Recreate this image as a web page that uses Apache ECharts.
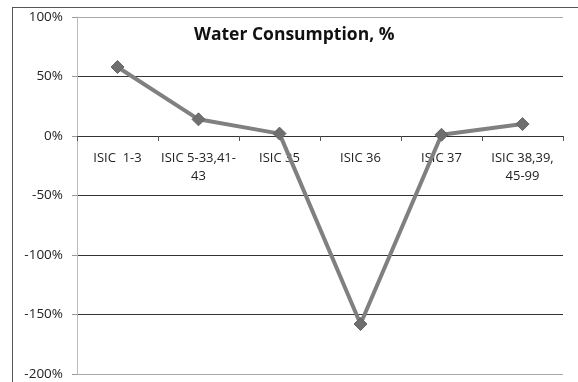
<!DOCTYPE html>
<html>
<head>
<meta charset="utf-8">
<script src="https://cdn.jsdelivr.net/npm/echarts@6/dist/echarts.min.js"></script>
<style>html,body{margin:0;padding:0;background:#fff}#c{width:578px;height:382px}</style>
</head>
<body>
<div id="c"></div>
<script>
var categories = ['ISIC  1-3', 'ISIC 5-33,41-\n43', 'ISIC 35', 'ISIC 36', 'ISIC 37', 'ISIC 38,39,\n45-99'];
var values = [58, 14, 2, -158, 1, 10];
var yTicks = { min: -200, max: 100, interval: 50 };
var titleText = 'Water Consumption, %';

var chart = echarts.init(document.getElementById('c'));
chart.setOption({
  animation: false,
  backgroundColor: '#fff',
  title: {
    text: titleText,
    left: 189, top: 21,
    textStyle: { fontFamily: 'Open Sans', fontWeight: 'bold', fontSize: 17.5, color: '#111' }
  },
  grid: { left: 77, right: 15, top: 17, bottom: 8, containLabel: false, outerBoundsMode: 'none' },
  graphic: [
    { type: 'line', shape: { x1: 12, y1: 7.5, x2: 578, y2: 7.5 }, style: { stroke: '#555', lineWidth: 1 } },
    { type: 'line', shape: { x1: 12.5, y1: 7, x2: 12.5, y2: 382 }, style: { stroke: '#555', lineWidth: 1 } }
  ],
  xAxis: {
    type: 'category',
    data: categories,
    boundaryGap: true,
    offset: 0,
    axisLine: { onZero: false, lineStyle: { color: '#333', width: 1 } },
    axisTick: { show: true, length: 5, lineStyle: { color: '#555' } },
    axisLabel: { show: true, hideOverlap: false, margin: 13, fontFamily: 'Open Sans', fontSize: 13, color: '#222', lineHeight: 18, interval: 0 }
  },
  yAxis: {
    type: 'value',
    min: yTicks.min, max: yTicks.max, interval: yTicks.interval,
    axisLine: { show: true, lineStyle: { color: '#bbb', width: 1 } },
    axisTick: { show: true, length: 5, lineStyle: { color: '#999' } },
    axisLabel: { formatter: '{value}%', margin: 14, fontFamily: 'Open Sans', fontSize: 13.5, color: '#222' },
    splitLine: { show: true, lineStyle: { color: ['#aaa', '#333', '#333', '#333', '#333', '#333', '#aaa'], width: 1 } }
  },
  series: [{
    type: 'line',
    data: values,
    symbol: 'diamond',
    symbolSize: 13,
    lineStyle: { color: '#808080', width: 4 },
    itemStyle: { color: '#6f6f6f', borderColor: '#666', borderWidth: 1 }
  }]
});
var zeroY = chart.convertToPixel({ yAxisIndex: 0 }, 0);
var bottomY = chart.convertToPixel({ yAxisIndex: 0 }, yTicks.min);
chart.setOption({ xAxis: { offset: zeroY - bottomY } });
</script>
</body>
</html>
